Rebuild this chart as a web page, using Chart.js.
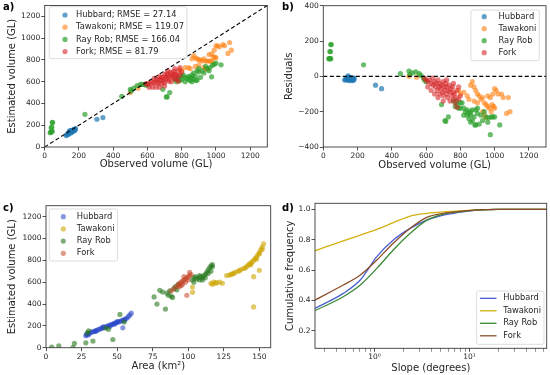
<!DOCTYPE html>
<html>
<head>
<meta charset="utf-8">
<script src="https://cdn.jsdelivr.net/npm/chart.js@4.4.1/dist/chart.umd.min.js"></script>
<style>
  body { margin: 0; background: #fff; }
  #wrap { position: relative; width: 550px; height: 375px; }
  canvas { position: absolute; left: 0; top: 0; }
  .tag { position: absolute; font: bold 10px 'DejaVu Sans'; line-height: 10px; color: #000; }
</style>
</head>
<body>
<div id="wrap">
  <canvas id="chart-a" width="550" height="375"></canvas>
  <canvas id="chart-b" width="550" height="375"></canvas>
  <canvas id="chart-c" width="550" height="375"></canvas>
  <canvas id="chart-d" width="550" height="375"></canvas>
  <div class="tag" style="left:3px;top:1.5px">a)</div>
  <div class="tag" style="left:282px;top:1.5px">b)</div>
  <div class="tag" style="left:3px;top:203px">c)</div>
  <div class="tag" style="left:282px;top:203px">d)</div>
</div>
<script>
// Observed vs estimated volume (GL), panels a) and b)
const hubbardObs = [125,130,135,138,140,142,145,148,150,152,155,158,160,162,165,168,170,172,175,178,180,145,155,305,340];
const hubbardEst = [105,112,120,128,118,135,140,130,145,138,150,140,152,145,155,150,160,148,165,158,168,148,130,255,270];

const tawakoniObs = [860,870,880,890,900,910,920,930,940,950,960,970,980,990,1000,1010,1020,1040,1050,1080,1070,1090,820,840,850,880,900,960,975,985,995,1000,930,940,950,800,790,500,545];
const tawakoniEst = [810,840,820,810,800,800,790,810,790,790,790,790,780,890,930,930,920,940,930,960,860,890,730,730,720,740,750,850,855,825,825,820,730,720,715,700,710,500,540];

const rayRobObs = [32,36,40,44,38,42,44,46,235,450,500,505,520,540,560,570,585,590,600,690,710,715,730,760,770,780,790,800,800,810,820,820,830,840,850,850,860,860,870,870,880,885,890,900,910,920,930,940,950,960,965,975,980,990,1000,1030,890,860,840,780,900];
const rayRobEst = [132,136,140,144,178,182,224,226,300,465,530,515,540,565,575,575,575,570,570,530,460,460,500,620,600,640,610,650,620,660,640,600,630,650,640,610,660,640,620,680,650,610,700,690,640,700,680,740,720,700,730,645,750,760,770,755,615,600,620,620,720];

const forkObs = [590,600,610,620,630,640,640,650,655,660,665,670,675,680,680,685,690,695,700,700,705,710,715,720,720,725,730,735,740,740,745,750,755,760,760,765,770,775,780,790,800,780,650,700,670,630,610,720,760,790];
const forkEst = [580,580,580,600,590,630,590,620,595,620,585,650,615,640,580,615,640,605,670,590,645,630,675,620,660,605,650,685,650,600,675,640,695,630,670,665,620,655,700,660,690,605,550,560,550,550,550,700,720,730];

const rmseLabels = ['Hubbard; RMSE = 27.14', 'Tawakoni; RMSE = 119.07', 'Ray Rob; RMSE = 166.04', 'Fork; RMSE = 81.79'];
const names = ['Hubbard', 'Tawakoni', 'Ray Rob', 'Fork'];

// Area (km2) vs estimated volume (GL), panel c)
const hubbardArea = [28,28.5,29,29.5,30,31,32,33,34,35,36,37,38,39,40,41,42,43,44,45,46,47,48,49,50,51,52,53,54,55,56,57,58,59,60,30,35,45,50,55,54,40,48];
const hubbardVol = [110,118,122,128,132,136,142,146,150,156,160,166,172,176,182,186,192,196,202,206,212,216,222,226,232,236,242,246,252,256,264,272,286,300,316,118,150,196,240,250,182,190,215];
const tawakoniArea = [103,103,116,117,118,119,120,122,124,127,129,131,133,135,137,139,141,142,143,144,145,146,147,148,149,150,151,152,153,152,150,148,144,140,136,132,130,146,150,146];
const tawakoniVol = [507,555,590,580,600,590,595,600,590,660,665,675,690,700,715,725,740,755,765,775,785,800,815,830,850,870,895,920,950,900,860,810,760,730,705,680,670,650,708,373];
const rayRobArea = [4,9,19,20,28,33,47,29,30,42,44,52,55,76,78,84,80,82,85,86,87,88,89,90,91,92,93,103,104,105,106,107,108,109,110,111,112,113,114,115,116,117,116,112,108,104,110,114,117];
const rayRobVol = [5,18,3,40,45,61,75,135,155,180,168,305,235,465,400,354,525,510,500,480,520,470,460,540,560,530,580,620,640,650,630,640,660,650,640,660,670,690,710,730,750,740,700,640,620,600,620,680,760];
const forkArea = [88,90,92,93,94,95,96,97,98,99,100,101,102,96,98,100,94,99,95,97,101];
const forkVol = [520,540,560,575,590,600,610,620,630,640,650,660,670,580,600,620,560,480,570,650,690];

// Slope cumulative frequency, panel d)
const slopeDeg = [0.237, 0.47, 0.71, 1.06, 1.58, 2.38, 3.56, 5.33, 7.36, 12, 20, 65];
const hubbardCdf = [0.347, 0.446, 0.534, 0.688, 0.798, 0.875, 0.929, 0.962, 0.978, 0.995, 1.0, 1.0];
const tawakoniCdf = [0.727, 0.793, 0.83, 0.868, 0.912, 0.956, 0.974, 0.984, 0.989, 0.997, 1.0, 1.0];
const rayRobCdf = [0.332, 0.424, 0.501, 0.611, 0.732, 0.842, 0.929, 0.969, 0.982, 0.995, 1.0, 1.0];
const forkCdf = [0.402, 0.501, 0.567, 0.666, 0.776, 0.875, 0.947, 0.974, 0.985, 0.996, 1.0, 1.0];

// Tick values
const volTicks = [0, 200, 400, 600, 800, 1000, 1200];
const residTicks = [-400, -200, 0, 200, 400];
const areaTicks = [0, 25, 50, 75, 100, 125, 150];
const freqTicks = [0.2, 0.4, 0.6, 0.8, 1.0];
const slopeTicks = [0.3,0.4,0.5,0.6,0.7,0.8,0.9,1,2,3,4,5,6,7,8,9,10,20,30,40,50,60];

const VOL_MAX = 1300;

const TICK_FONT = { family: 'DejaVu Sans', size: 7.5 };
const TITLE_FONT = { family: 'DejaVu Sans', size: 10 };
const LEGEND_FONT = '8.3px "DejaVu Sans"';
const INK = '#262626';

const colorsAB = ['rgba(31,119,180,0.7)', 'rgba(255,127,14,0.6)', 'rgba(44,160,44,0.7)', 'rgba(214,39,40,0.6)'];
const colorsC = ['rgba(40,70,200,0.55)', 'rgba(205,165,0,0.6)', 'rgba(40,120,30,0.6)', 'rgba(195,70,40,0.55)'];
const colorsD = ['#4b5fd0', '#d4b00e', '#3a8a36', '#8a4f2a'];

function toPoints(xs, ys) {
    return xs.map((x, i) => ({ x: x, y: ys[i] }));
}

function minus(v) {
    return String(v).replace('-', '\u2212');
}

// Draw the four spines around the plot area
const framePlugin = {
    id: 'frame',
    afterDatasetsDraw(chart) {
        const { ctx, chartArea: a } = chart;
        ctx.save();
        ctx.strokeStyle = '#3a3a3a';
        ctx.lineWidth = 0.9;
        ctx.strokeRect(a.left, a.top, a.width, a.height);
        ctx.restore();
    }
};

// Matplotlib-like legend box inside the axes
const legendPlugin = {
    id: 'boxLegend',
    afterDraw(chart, args, o) {
        const items = chart.data.datasets.filter(d => d.label);
        const ctx = chart.ctx;
        ctx.save();
        ctx.font = LEGEND_FONT;
        const textW = Math.max(...items.map(d => ctx.measureText(d.label).width));
        const w = o.textDx + textW + o.padRight;
        const h = o.rowDy + (items.length - 1) * o.rowStep + o.padBottom;
        const x = o.right !== undefined ? o.right - w : o.left;
        const y = o.top;
        ctx.beginPath();
        ctx.roundRect(x, y, w, h, 2);
        ctx.fillStyle = 'rgba(255,255,255,0.8)';
        ctx.fill();
        ctx.strokeStyle = '#d4d4d4';
        ctx.lineWidth = 0.8;
        ctx.stroke();
        ctx.textBaseline = 'middle';
        items.forEach((d, i) => {
            const cy = y + o.rowDy + i * o.rowStep;
            const cx = x + o.markDx;
            if (o.marker === 'line') {
                ctx.strokeStyle = d.borderColor;
                ctx.lineWidth = d.borderWidth;
                ctx.beginPath();
                ctx.moveTo(cx - 8.3, cy);
                ctx.lineTo(cx + 8.3, cy);
                ctx.stroke();
            } else {
                ctx.fillStyle = d.backgroundColor;
                ctx.beginPath();
                ctx.arc(cx, cy, d.pointRadius, 0, Math.PI * 2);
                ctx.fill();
            }
            ctx.fillStyle = INK;
            ctx.fillText(d.label, x + o.textDx, cy);
        });
        ctx.restore();
    }
};

function buildAxis(side, cfg, fit) {
    return {
        type: cfg.type || 'linear',
        position: side,
        min: cfg.min,
        max: cfg.max,
        afterBuildTicks: s => { s.ticks = cfg.ticks.map(v => ({ value: v })); },
        afterFit: s => { if (side === 'left') s.width = fit; else s.height = fit; },
        grid: {
            display: true,
            drawOnChartArea: false,
            drawTicks: true,
            tickLength: 3.5,
            tickColor: INK,
            tickWidth: cfg.tickWidth || 0.8
        },
        border: { display: false },
        ticks: {
            font: TICK_FONT,
            color: INK,
            padding: 1,
            autoSkip: false,
            maxRotation: 0,
            callback: cfg.format || (v => minus(v))
        },
        title: { display: true, text: cfg.title, font: TITLE_FONT, color: INK, padding: 0 }
    };
}

// box: plot area edges and axis title centres, in page pixels
function makeChart(id, datasets, xCfg, yCfg, box, legend) {
    const half = TITLE_FONT.size * 1.2 / 2;
    const padLeft = box.yTitleX - half;
    const titleBottom = box.xTitleY + half;
    return new Chart(document.getElementById(id), {
        type: 'scatter',
        data: { datasets: datasets },
        options: {
            responsive: false,
            animation: false,
            events: [],
            layout: { padding: { left: padLeft, top: box.top, right: 550 - box.right, bottom: 375 - titleBottom } },
            scales: {
                x: buildAxis('bottom', xCfg, titleBottom - box.bottom),
                y: buildAxis('left', yCfg, box.left - padLeft)
            },
            plugins: { legend: { display: false }, tooltip: { enabled: false }, boxLegend: legend }
        },
        plugins: [framePlugin, legendPlugin]
    });
}

function scatterSet(label, xs, ys, color, order) {
    return { label: label, data: toPoints(xs, ys), backgroundColor: color, borderWidth: 0, pointRadius: 2.6, order: order };
}

const obsSeries = [hubbardObs, tawakoniObs, rayRobObs, forkObs];
const estSeries = [hubbardEst, tawakoniEst, rayRobEst, forkEst];

// a) estimated vs observed
const setsA = obsSeries.map((xs, i) => scatterSet(rmseLabels[i], xs, estSeries[i], colorsAB[i], 4 - i));
setsA.push({ data: [{ x: 0, y: 0 }, { x: VOL_MAX, y: VOL_MAX }], showLine: true, borderColor: '#000', borderWidth: 1.1, borderDash: [4, 2.5], pointRadius: 0, order: 0 });
makeChart('chart-a', setsA,
    { min: 0, max: VOL_MAX, ticks: volTicks, title: 'Observed volume (GL)' },
    { min: 0, max: VOL_MAX, ticks: volTicks, title: 'Estimated volume (GL)' },
    { left: 44.7, right: 267.3, top: 5, bottom: 147, yTitleX: 12.3, xTitleY: 164.5 },
    { left: 49.3, top: 6.7, rowDy: 8.3, rowStep: 12.2, markDx: 15.7, textDx: 26.7, padRight: 3, padBottom: 7 });

// b) residuals = estimated - observed
const setsB = obsSeries.map((xs, i) => scatterSet(names[i], xs, estSeries[i].map((e, j) => e - xs[j]), colorsAB[i], 4 - i));
setsB.push({ data: [{ x: 0, y: 0 }, { x: VOL_MAX, y: 0 }], showLine: true, borderColor: '#000', borderWidth: 1.1, borderDash: [4, 2.5], pointRadius: 0, order: 0 });
makeChart('chart-b', setsB,
    { min: 0, max: VOL_MAX, ticks: volTicks, title: 'Observed volume (GL)' },
    { min: -400, max: 400, ticks: residTicks, title: 'Residuals' },
    { left: 323.3, right: 546.7, top: 5.7, bottom: 147, yTitleX: 289.3, xTitleY: 165 },
    { right: 539.3, top: 10, rowDy: 6.7, rowStep: 12, markDx: 13.3, textDx: 27.6, padRight: 3, padBottom: 8 });

// c) area vs estimated volume
const areaSeries = [hubbardArea, tawakoniArea, rayRobArea, forkArea];
const volSeries = [hubbardVol, tawakoniVol, rayRobVol, forkVol];
const setsC = areaSeries.map((xs, i) => scatterSet(names[i], xs, volSeries[i], colorsC[i], 4 - i));
makeChart('chart-c', setsC,
    { min: 0, max: 158, ticks: areaTicks, title: 'Area (km\u00b2)' },
    { min: 0, max: VOL_MAX, ticks: volTicks, title: 'Estimated volume (GL)' },
    { left: 46, right: 270.7, top: 205.7, bottom: 347.7, yTitleX: 12.3, xTitleY: 366.7 },
    { left: 49.3, top: 209, rowDy: 7.7, rowStep: 12.2, markDx: 14, textDx: 27.4, padRight: 3, padBottom: 7.7 });

// d) cumulative slope frequency
const cdfSeries = [hubbardCdf, tawakoniCdf, rayRobCdf, forkCdf];
const setsD = cdfSeries.map((ys, i) => ({
    label: names[i],
    data: toPoints(slopeDeg, ys),
    showLine: true,
    borderColor: colorsD[i],
    borderWidth: 1.3,
    pointRadius: 0,
    cubicInterpolationMode: 'monotone',
    order: 4 - i
}));
makeChart('chart-d', setsD,
    {
        type: 'logarithmic', min: 0.237, max: 65, ticks: slopeTicks, title: 'Slope (degrees)',
        format: v => (v === 1 ? '10\u2070' : v === 10 ? '10\u00b9' : ''),
        tickWidth: c => (c.tick && (c.tick.value === 1 || c.tick.value === 10) ? 0.8 : 0.5)
    },
    { min: 0.084, max: 1.04, ticks: freqTicks, title: 'Cumulative frequency', format: v => v.toFixed(1) },
    { left: 315, right: 546.7, top: 203.3, bottom: 348.3, yTitleX: 290, xTitleY: 368.3 },
    { right: 544, top: 291, marker: 'line', rowDy: 7.3, rowStep: 12.5, markDx: 11.6, textDx: 26.6, padRight: 3, padBottom: 8.5 });
</script>
</body>
</html>
